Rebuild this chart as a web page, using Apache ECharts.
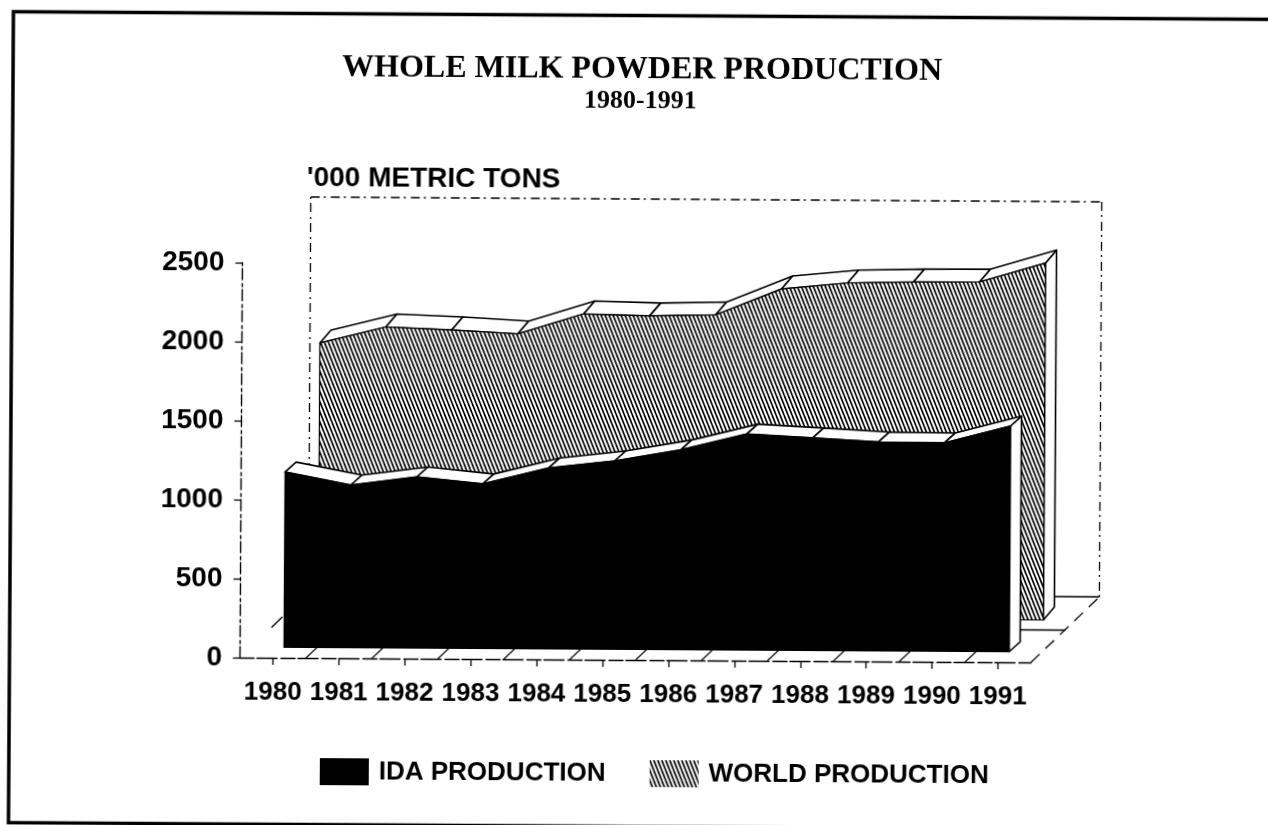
<!DOCTYPE html>
<html>
<head>
<meta charset="utf-8">
<style>
  html, body { margin: 0; padding: 0; width: 1268px; height: 825px; overflow: hidden; background: #fff; }
  /* The sheet sits very slightly askew, so the whole drawing is turned a little. */
  #chart { position: absolute; left: -36px; top: -36px; width: 1340px; height: 900px;
           transform-origin: 670px 448px; transform: rotate(0.35deg); }
</style>
</head>
<body>
<div id="chart"></div>
<script src="https://cdn.jsdelivr.net/npm/echarts@6/dist/echarts.min.js"></script>
<script>
// Whole milk powder production, thousand metric tons
const years = ['1980','1981','1982','1983','1984','1985','1986','1987','1988','1989','1990','1991'];
const idaProduction = [1110,1030,1084,1042,1146,1193,1265,1368,1346,1323,1320,1429];
const worldProduction = [1725,1829,1813,1790,1919,1909,1918,2085,2125,2134,2136,2259];
const valueTicks = { min: 0, max: 2500, interval: 500 };

const PAD = 36;                       // margin around the page inside the turned canvas
const SANS = '"Liberation Sans", Arial, sans-serif';
const SERIF = '"Liberation Serif", "Times New Roman", serif';

// Pseudo-3D depth offsets in pixels
const WALL = [68, -66];               // front axis plane to back wall
const WORLD_PLANE = [45, -42.5];      // front axis plane to the world ribbon
const IDA_PLANE = [11, -10.5];        // front axis plane to the IDA ribbon
const MID_FLOOR = [34.5, -32.5];      // floor line between the two ribbons
const WORLD_THICK = [11, -13];
const IDA_THICK = [11, -10];

function makeHatch() {
  const c = document.createElement('canvas');
  c.width = 4; c.height = 10;
  const g = c.getContext('2d');
  g.fillStyle = '#fff'; g.fillRect(0, 0, 4, 10);
  g.strokeStyle = '#000'; g.lineWidth = 1.7;
  for (let k = -8; k <= 8; k += 4) {
    g.beginPath(); g.moveTo(k, 0); g.lineTo(k + 4, 10); g.stroke();
  }
  return { image: c, repeat: 'repeat' };
}
const hatch = makeHatch();

const shift = (p, d) => [p[0] + d[0], p[1] + d[1]];
const along = (a, b, t) => [a[0] + (b[0] - a[0]) * t, a[1] + (b[1] - a[1]) * t];
const poly = (points, style) => ({ type: 'polygon', shape: { points }, style });
const line = (a, b, style) => ({ type: 'line', shape: { x1: a[0], y1: a[1], x2: b[0], y2: b[1] }, style });

// Draws one ribbon: its front face, the white top strip and the white end cap.
function ribbon(values, plane, thick, fill) {
  return function (params, api) {
    if (params.dataIndex !== 0) return null;
    const edge = { stroke: '#000', lineWidth: 1.6, fill: '#fff', lineJoin: 'round' };
    const tops = values.map((v, i) => shift(api.coord([i, v]), plane));
    const bases = values.map((v, i) => shift(api.coord([i, 0]), plane));
    const children = [];
    const last = tops.length - 1;
    children.push(poly([tops[last], shift(tops[last], thick), shift(bases[last], thick), bases[last]], edge));
    for (let i = 0; i < last; i++) {
      children.push(poly([tops[i], tops[i + 1], shift(tops[i + 1], thick), shift(tops[i], thick)], edge));
    }
    children.push(poly(tops.concat(bases.slice().reverse()),
      { fill, stroke: '#000', lineWidth: 1.2 }));
    return { type: 'group', children };
  };
}

// Back wall, floor edges and the short floor marks in front of the IDA ribbon.
function room(params) {
  if (params.dataIndex !== 0) return null;
  const r = params.coordSys;
  const bl = [r.x, r.y + r.height], br = [r.x + r.width, r.y + r.height], tl = [r.x, r.y], tr = [r.x + r.width, r.y];
  const dash = { stroke: '#000', lineWidth: 1.3, lineDash: [9, 4, 2, 5], fill: null };
  const solid = { stroke: '#000', lineWidth: 1.4, fill: null };
  const children = [
    line(shift(bl, WALL), shift(tl, WALL), dash),
    line(shift(tl, WALL), shift(tr, WALL), dash),
    line(shift(tr, WALL), shift(br, WALL), dash),
    line(shift(bl, WALL), shift(br, WALL), solid),
    line(along(bl, shift(bl, WALL), 0.46), along(bl, shift(bl, WALL), 0.62), solid),
    line(br, shift(br, WALL), { stroke: '#000', lineWidth: 1.3, lineDash: [12, 8], fill: null })
  ];
  return { type: 'group', children };
}

function floorMarks(params) {
  if (params.dataIndex !== 0) return null;
  const r = params.coordSys;
  const bottom = r.y + r.height, right = r.x + r.width;
  const solid = { stroke: '#000', lineWidth: 1.3, fill: null };
  const band = r.width / years.length;
  const children = [line([r.x + band, bottom + MID_FLOOR[1]], [right + MID_FLOOR[0], bottom + MID_FLOOR[1]], solid)];
  for (let i = 1; i < years.length; i++) {
    const a = [r.x + band * i, bottom];
    children.push(line(a, shift(a, IDA_PLANE), { stroke: '#000', lineWidth: 1.1, fill: null }));
  }
  return { type: 'group', children };
}

const asPairs = values => values.map((v, i) => [i, v]);
const layer = { type: 'custom', silent: true, clip: false, encode: { x: 0, y: 1 } };

const option = {
  animation: false,
  backgroundColor: '#fff',
  title: [
    { text: 'WHOLE MILK POWDER PRODUCTION', left: 335 + PAD, top: 49 + PAD,
      textStyle: { fontFamily: SERIF, fontWeight: 'bold', fontSize: 32, color: '#000' } },
    { text: '1980-1991', left: 577 + PAD, top: 83 + PAD,
      textStyle: { fontFamily: SERIF, fontWeight: 'bold', fontSize: 26, color: '#000' } },
    { text: "'000 METRIC TONS", left: 300.5 + PAD, top: 161 + PAD,
      textStyle: { fontFamily: SANS, fontWeight: 'bold', fontSize: 28, color: '#000' } }
  ],
  legend: {
    left: 317 + PAD, top: 755 + PAD, itemWidth: 49, itemHeight: 27, itemGap: 44, icon: 'rect',
    data: ['IDA PRODUCTION', 'WORLD PRODUCTION'],
    selectedMode: false,
    textStyle: { fontFamily: SANS, fontWeight: 'bold', fontSize: 26, color: '#000', padding: [0, 0, 0, 5] }
  },
  graphic: [{
    type: 'rect', silent: true,
    shape: { x: 11 + PAD, y: 15.5 + PAD, width: 1290, height: 811 },
    style: { fill: null, stroke: '#000', lineWidth: 3.5 }
  }],
  grid: { left: 241.5 + PAD, top: 265 + PAD, width: 791, height: 395 },
  xAxis: {
    type: 'category', data: years,
    axisLine: { lineStyle: { color: '#000', width: 1.4, type: [14, 3, 20, 4] } },
    axisTick: { show: true, alignWithLabel: true, length: 7, lineStyle: { color: '#000', width: 1.3 } },
    axisLabel: { margin: 22, interval: 0, fontFamily: SANS, fontWeight: 'bold', fontSize: 26, color: '#000' }
  },
  yAxis: {
    type: 'value', min: valueTicks.min, max: valueTicks.max, interval: valueTicks.interval,
    splitLine: { show: false },
    axisLine: { show: true, lineStyle: { color: '#000', width: 1.4, type: [11, 3, 3, 4] } },
    axisTick: { show: true, length: 7, lineStyle: { color: '#000', width: 1.3 } },
    axisLabel: { margin: 18, padding: [4, 0, 0, 0], fontFamily: SANS, fontWeight: 'bold', fontSize: 28, color: '#000',
      formatter: value => String(value) }
  },
  series: [
    Object.assign({}, layer, { name: 'room', data: asPairs(years.map(() => 0)), renderItem: room }),
    Object.assign({}, layer, { name: 'WORLD PRODUCTION', data: asPairs(worldProduction),
      itemStyle: { color: hatch },
      renderItem: ribbon(worldProduction, WORLD_PLANE, WORLD_THICK, hatch) }),
    Object.assign({}, layer, { name: 'marks', data: asPairs(years.map(() => 0)), renderItem: floorMarks }),
    Object.assign({}, layer, { name: 'IDA PRODUCTION', data: asPairs(idaProduction),
      itemStyle: { color: '#000' },
      renderItem: ribbon(idaProduction, IDA_PLANE, IDA_THICK, '#000') })
  ]
};

echarts.init(document.getElementById('chart'), null, { renderer: 'canvas' }).setOption(option);
</script>
</body>
</html>
